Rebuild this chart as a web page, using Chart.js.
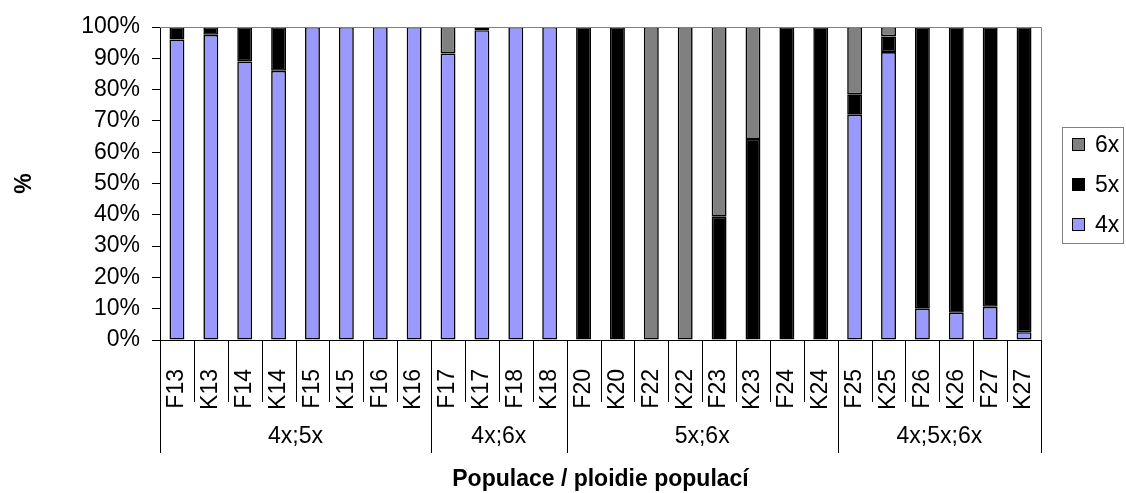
<!DOCTYPE html>
<html>
<head>
<meta charset="utf-8">
<script src="https://cdn.jsdelivr.net/npm/chart.js@4.4.1/dist/chart.umd.min.js"></script>
<style>
  html, body { margin: 0; padding: 0; background: #fff; }
  #wrap { width: 1126px; height: 493px; }
</style>
</head>
<body>
<div id="wrap"><canvas id="c" width="1126" height="493"></canvas></div>
<script>
// Populations (category labels along the x axis)
const categories = ['F13','K13','F14','K14','F15','K15','F16','K16',
                    'F17','K17','F18','K18',
                    'F20','K20','F22','K22','F23','K23','F24','K24',
                    'F25','K25','F26','K26','F27','K27'];

// Ploidy groups shown in the second label row
const groupLabels = ['4x;5x', '4x;6x', '5x;6x', '4x;5x;6x'];
const groupSizes  = [8, 4, 8, 6];

// Share of each cytotype per population (%)
const tetraploid = [96, 97.5, 89, 86, 100, 100, 100, 100,
                    91.5, 99, 100, 100,
                    0, 0, 0, 0, 0, 0, 0, 0,
                    72, 92, 10, 8.7, 10.6, 2.5];
const pentaploid = [4, 2.5, 11, 14, 0, 0, 0, 0,
                    0, 1, 0, 0,
                    100, 100, 0, 0, 39.4, 64.2, 100, 100,
                    6.5, 5, 90, 91.3, 89.4, 97.5];
const hexaploid  = [0, 0, 0, 0, 0, 0, 0, 0,
                    8.5, 0, 0, 0,
                    0, 0, 100, 100, 60.6, 35.8, 0, 0,
                    21.5, 3, 0, 0, 0, 0];

const yTicks = [0, 10, 20, 30, 40, 50, 60, 70, 80, 90, 100];

const FONT = "'Liberation Sans', Arial, sans-serif";
const nz = a => a.map(v => (v === 0 ? null : v));

// Frame, category separators, group row and boxed legend
const decorations = {
  id: 'decorations',
  afterDraw(chart) {
    const ctx = chart.ctx;
    const x = chart.scales.x;
    const a = chart.chartArea;
    const n = categories.length;
    const step = (x.getPixelForValue(1) - x.getPixelForValue(0));
    const edge = i => x.getPixelForValue(0) - step / 2 + i * step;

    ctx.save();
    // plot frame (top / right)
    ctx.strokeStyle = '#808080';
    ctx.lineWidth = 1;
    ctx.beginPath();
    ctx.moveTo(a.left, a.top + 0.5);
    ctx.lineTo(Math.round(a.right) + 0.5, a.top + 0.5);
    ctx.lineTo(Math.round(a.right) + 0.5, a.bottom);
    ctx.stroke();

    // category axis line and separators
    ctx.strokeStyle = '#000';
    ctx.beginPath();
    ctx.moveTo(a.left, Math.round(a.bottom) + 0.5);
    ctx.lineTo(a.right, Math.round(a.bottom) + 0.5);
    ctx.stroke();

    const groupEdges = [0];
    groupSizes.forEach((s, i) => groupEdges.push(groupEdges[i] + s));
    for (let i = 0; i <= n; i++) {
      const px = Math.round(edge(i)) + 0.5;
      const long = groupEdges.includes(i);
      ctx.beginPath();
      ctx.moveTo(px, a.bottom);
      ctx.lineTo(px, a.bottom + (long ? 113 : 62));
      ctx.stroke();
    }

    // group labels
    ctx.fillStyle = '#000';
    ctx.font = '23px ' + FONT;
    ctx.textAlign = 'center';
    ctx.textBaseline = 'middle';
    groupLabels.forEach((g, i) => {
      const cx = (edge(groupEdges[i]) + edge(groupEdges[i + 1])) / 2;
      ctx.fillText(g, cx, a.bottom + 97);
    });

    // legend box
    const lx = 1062, ly = 127, lw = 61, lh = 116;
    ctx.strokeStyle = '#808080';
    ctx.strokeRect(lx + 0.5, ly + 0.5, lw, lh);
    const items = chart.data.datasets.slice().reverse();
    ctx.textAlign = 'left';
    items.forEach((ds, i) => {
      const cy = ly + 18 + i * 40;
      ctx.fillStyle = ds.backgroundColor;
      ctx.fillRect(lx + 10, cy - 7, 13, 13);
      ctx.strokeStyle = '#000';
      ctx.strokeRect(lx + 10.5, cy - 6.5, 12, 12);
      ctx.fillStyle = '#000';
      ctx.fillText(ds.label, lx + 33, cy + 1);
    });
    ctx.restore();
  }
};

new Chart(document.getElementById('c'), {
  type: 'bar',
  data: {
    labels: categories,
    datasets: [
      { label: '4x', data: nz(tetraploid), backgroundColor: '#9999FF' },
      { label: '5x', data: nz(pentaploid), backgroundColor: '#000000' },
      { label: '6x', data: nz(hexaploid),  backgroundColor: '#808080' }
    ].map(d => Object.assign(d, {
      borderColor: '#000', borderWidth: 1.6, borderSkipped: false,
      barPercentage: 0.44, categoryPercentage: 1.0
    }))
  },
  options: {
    responsive: false,
    animation: false,
    devicePixelRatio: 1,
    layout: { padding: { top: 27, right: 85, left: 0, bottom: 0 } },
    plugins: { legend: { display: false }, tooltip: { enabled: false } },
    scales: {
      x: {
        stacked: true,
        grid: { display: false },
        border: { display: false },
        ticks: {
          autoSkip: false, minRotation: 90, maxRotation: 90,
          padding: 21, color: '#000', font: { family: FONT, size: 23 }
        },
        title: {
          display: true, text: 'Populace / ploidie populací', color: '#000',
          font: { family: FONT, size: 23, weight: 'bold' },
          padding: { top: 0, bottom: 0 }
        },
        afterFit(s) { s.height = 153; }
      },
      y: {
        stacked: true, min: 0, max: 100,
        afterBuildTicks(s) { s.ticks = yTicks.map(v => ({ value: v })); },
        grid: { drawOnChartArea: false, drawTicks: true, tickLength: 8, color: '#000' },
        border: { display: true, color: '#000' },
        ticks: {
          padding: 12, color: '#000', font: { family: FONT, size: 23 },
          callback: v => v + '%'
        },
        title: {
          display: true, text: '%', color: '#000',
          font: { family: FONT, size: 23, weight: 'bold' },
          padding: { top: 11, bottom: 0 }
        },
        afterFit(s) { s.width = 160; }
      }
    }
  },
  plugins: [decorations]
});
</script>
</body>
</html>
